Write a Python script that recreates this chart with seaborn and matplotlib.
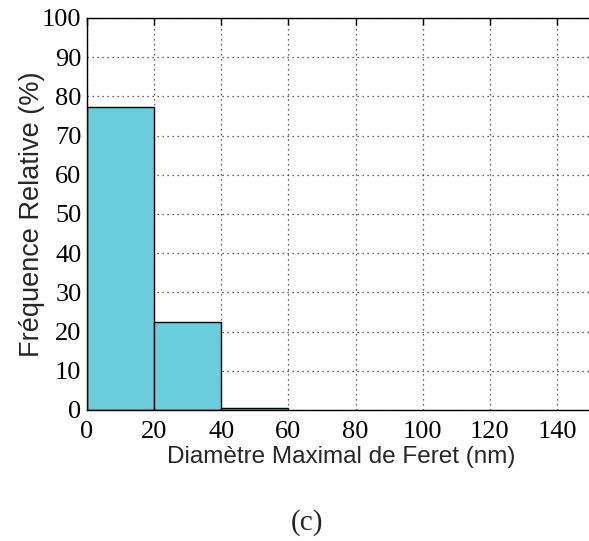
import matplotlib
matplotlib.use("Agg")
import matplotlib.pyplot as plt
import seaborn as sns
import numpy as np

# Data
bin_edges = [0, 20, 40, 60]
bin_centers = [10, 30, 50]
rel_freq = [77.2, 22.4, 0.4]
x_ticks = [0, 20, 40, 60, 80, 100, 120, 140]
y_ticks = [0, 10, 20, 30, 40, 50, 60, 70, 80, 90, 100]

sns.set_style("white")
plt.rcParams['font.family'] = ['Liberation Serif', 'DejaVu Serif']

fig = plt.figure(figsize=(5.89, 5.41), dpi=100)
ax = fig.add_axes([87/589, 1 - 410/541, (595 - 87)/589, (410 - 18)/541])

sns.histplot(x=bin_centers, weights=rel_freq, bins=bin_edges, ax=ax,
             color="#6BCDDB", alpha=1.0, edgecolor="black", linewidth=1.0)

ax.set_xlim(0, 151.3)
ax.set_ylim(0, 100)
ax.set_xticks(x_ticks)
ax.set_yticks(y_ticks)
ax.set_xticklabels([str(v) for v in x_ticks], fontsize=19, family='Liberation Serif')
ax.set_yticklabels([str(v) for v in y_ticks], fontsize=19, family='Liberation Serif')
ax.grid(True, linestyle=(0, (1, 3)), color="#333333", linewidth=0.9)
for l in ax.get_xgridlines() + ax.get_ygridlines():
    l.set_zorder(0.5)
for p in ax.patches:
    p.set_zorder(2)
ax.tick_params(axis='x', direction='in', length=5, width=1, top=True, pad=8, colors='black')
ax.tick_params(axis='y', direction='in', length=5, width=1, right=True, pad=4, colors='black')
for s in ax.spines.values():
    s.set_color('black')
    s.set_linewidth(1.0)

ax.set_xlabel("Diamètre Maximal de Feret (nm)", fontsize=17.5, family='Liberation Sans', labelpad=2)
ax.set_ylabel("Fréquence Relative (%)", fontsize=19.5, family='Liberation Sans', labelpad=-2)

fig.text(306.5/589, 1 - 523/541, "(c)", fontsize=21, family='Liberation Serif', ha='center', va='center')

fig.savefig("out.png", dpi=100)
